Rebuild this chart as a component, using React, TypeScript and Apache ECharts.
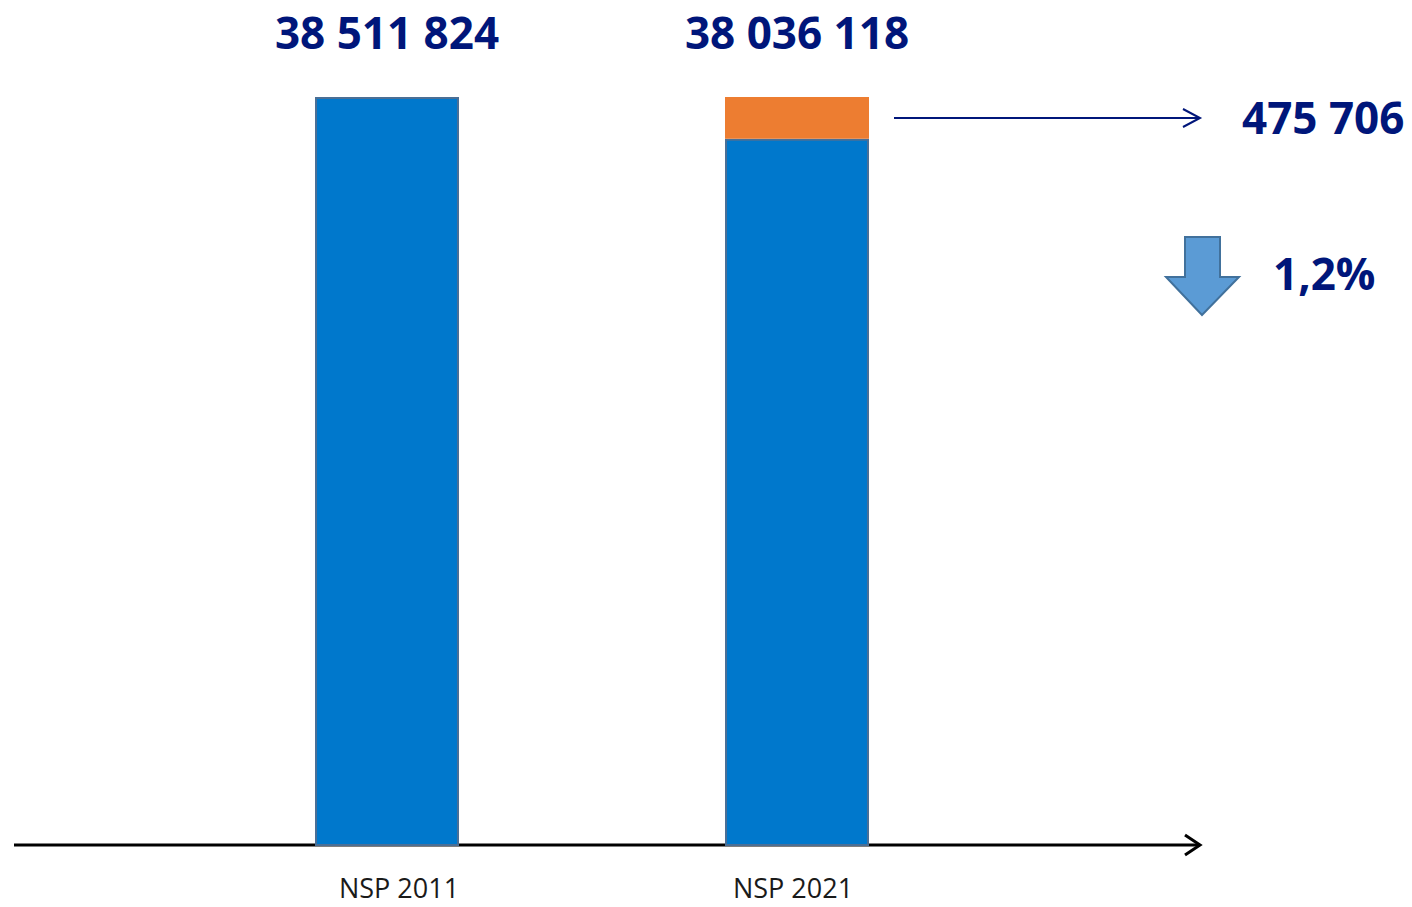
import React, { useEffect, useRef } from "react";
import * as echarts from "echarts";

const categories = ["NSP 2011", "NSP 2021"];
const baseValues = [38511824, 38036118];
const diffValues = [0, 475706];
const changeLabel = "1,2%";

const NAVY = "#00167A";
const fmt = (v: number) => String(v).replace(/\B(?=(\d{3})+(?!\d))/g, " ");

export default function App() {
  const ref = useRef<HTMLDivElement>(null);
  useEffect(() => {
    if (!ref.current) return;
    const chart = echarts.init(ref.current, null, { renderer: "svg" });
    chart.setOption({
      animation: false,
      grid: { left: 182, right: 410, top: 54, bottom: 62 },
      xAxis: {
        type: "category",
        data: categories,
        axisLine: { show: false },
        axisTick: { show: false },
        axisLabel: {
          margin: 29,
          formatter: (v: string, i: number) => (i === 0 ? `{a|${v}}` : `{b|${v}}`),
          rich: {
            a: { fontFamily: "Open Sans", fontSize: 27, lineHeight: 26, color: "#1a1a1a", padding: [0, 0, 0, 24] },
            b: { fontFamily: "Open Sans", fontSize: 27, lineHeight: 26, color: "#1a1a1a", padding: [0, 8, 0, 0] },
          },
        },
      },
      yAxis: {
        type: "value",
        min: 30000000,
        max: 39000000,
        show: false,
        splitLine: { show: false },
      },
      series: [
        {
          type: "bar",
          stack: "t",
          data: baseValues,
          barWidth: 144,
          itemStyle: { color: "#0078CC", borderColor: "#4A6F96", borderWidth: 2 },
        },
        {
          type: "bar",
          stack: "t",
          data: diffValues,
          barWidth: 144,
          itemStyle: { color: "#ED7D31" },
          label: {
            show: true,
            position: "top",
            distance: 43,
            fontFamily: "Open Sans",
            fontWeight: 700,
            fontSize: 44,
            color: NAVY,
            formatter: (p: any) => fmt(baseValues[p.dataIndex]),
          },
        },
      ],
      graphic: [
        { type: "line", shape: { x1: 14, y1: 845, x2: 1200, y2: 845 }, style: { stroke: "#000", lineWidth: 3 } },
        { type: "polyline", shape: { points: [[1185, 835], [1200, 845], [1185, 855]] }, style: { stroke: "#000", lineWidth: 3, fill: null } },
        { type: "line", shape: { x1: 894, y1: 118, x2: 1200, y2: 118 }, style: { stroke: NAVY, lineWidth: 2 } },
        { type: "polyline", shape: { points: [[1183, 109], [1200, 118], [1183, 127]] }, style: { stroke: NAVY, lineWidth: 2, fill: null } },
        {
          type: "text",
          x: 1242,
          y: 117,
          style: { text: fmt(diffValues[1]), fontFamily: "Open Sans", fontWeight: 700, fontSize: 44, fill: NAVY, verticalAlign: "middle", align: "left" },
        },
        {
          type: "polygon",
          shape: { points: [[1185, 237], [1220, 237], [1220, 277], [1239, 277], [1202, 315], [1166, 277], [1185, 277]] },
          style: { fill: "#5B9BD5", stroke: "#41719C", lineWidth: 2 },
        },
        {
          type: "text",
          x: 1273,
          y: 273,
          style: { text: changeLabel, fontFamily: "Open Sans", fontWeight: 700, fontSize: 44, fill: NAVY, verticalAlign: "middle", align: "left" },
        },
      ],
    });
    return () => chart.dispose();
  }, []);
  return <div ref={ref} style={{ position: "fixed", left: 0, top: 0, width: 1412, height: 907, background: "#fff" }} />;
}
